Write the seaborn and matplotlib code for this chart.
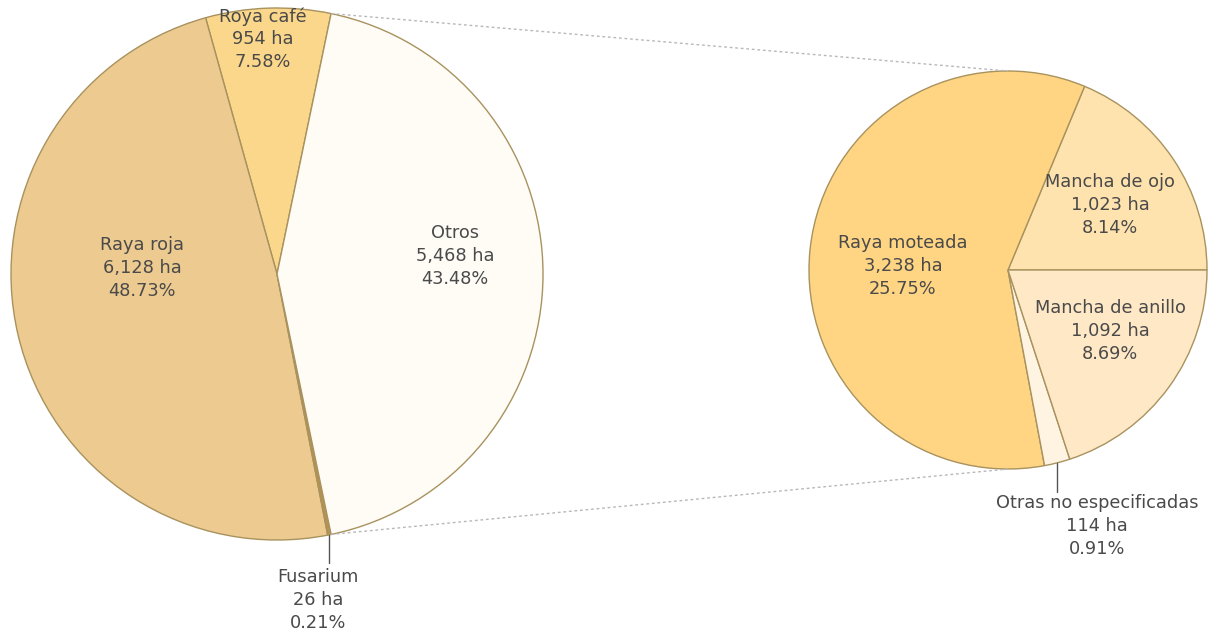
import numpy as np
import matplotlib
matplotlib.use("Agg")
import matplotlib.pyplot as plt
import seaborn as sns

# main pie (counterclockwise order)
main_names = ["Roya café", "Raya roja", "Fusarium", "Otros"]
main_ha = [954, 6128, 26, 5468]
main_pct = [7.58, 48.73, 0.21, 43.48]
main_colors = ["#FBD78C", "#EDCA8F", "#B8914E", "#FFFCF6"]

# breakdown of "Otros" (counterclockwise order)
sub_names = ["Mancha de ojo", "Raya moteada", "Otras no especificadas", "Mancha de anillo"]
sub_ha = [1023, 3238, 114, 1092]
sub_pct = [8.14, 25.75, 0.91, 8.69]
sub_colors = ["#FEE3AE", "#FFD583", "#FFF4E2", "#FEE8C6"]

W, H = 1220, 638
sns.set_theme(style="white")
plt.rcParams["font.family"] = ["DejaVu Sans"]

fig = plt.figure(figsize=(W / 100, H / 100), dpi=100)
ax = fig.add_axes([0, 0, 1, 1])

edge = "#A8925E"
c1, r1 = (277, H - 274), 266
c2, r2 = (1008, H - 270), 199

start = main_pct[3] / 100 * 360 / 2
w1, _ = ax.pie(main_ha, colors=main_colors, startangle=start, counterclock=True,
               center=c1, radius=r1,
               wedgeprops=dict(edgecolor=edge, linewidth=1))
w2, _ = ax.pie(sub_ha, colors=sub_colors, startangle=0, counterclock=True,
               center=c2, radius=r2,
               wedgeprops=dict(edgecolor=edge, linewidth=1))

ax.set_xlim(0, W)
ax.set_ylim(0, H)
ax.set_aspect("equal")
ax.axis("off")

# dashed connectors from the "Otros" wedge to the secondary pie
ot = w1[3]
for ang, ang2 in [(ot.theta2, 90), (ot.theta1, 270)]:
    x0 = c1[0] + r1 * np.cos(np.radians(ang))
    y0 = c1[1] + r1 * np.sin(np.radians(ang))
    x1 = c2[0] + r2 * np.cos(np.radians(ang2))
    y1 = c2[1] + r2 * np.sin(np.radians(ang2))
    ax.plot([x0, x1], [y0, y1], color="#B8B8B8", lw=1, ls=(0, (2, 2)))

txt_color = "#4A4A4A"
fs = 12.8


def label(name, ha, pct):
    return f"{name}\n{ha:,} ha\n{pct:.2f}%"


# label centres (pixels from top-left)
main_pos = [(263, 39), (142, 268), (318, 600), (455, 256)]
sub_pos = [(1110, 205), (903, 266), (1097, 526), (1110, 331)]

for n, v, p, (x, y) in zip(main_names, main_ha, main_pct, main_pos):
    ax.text(x, H - y, label(n, v, p), ha="center", va="center", fontsize=fs,
            color=txt_color, linespacing=1.33)
for n, v, p, (x, y) in zip(sub_names, sub_ha, sub_pct, sub_pos):
    ax.text(x, H - y, label(n, v, p), ha="center", va="center", fontsize=fs,
            color=txt_color, linespacing=1.33)

# leader lines for the tiny slices
for wedge, c, r, yend in [(w1[2], c1, r1, 563), (w2[2], c2, r2, 492)]:
    mid = np.radians((wedge.theta1 + wedge.theta2) / 2)
    x0 = c[0] + r * np.cos(mid)
    y0 = c[1] + r * np.sin(mid)
    ax.plot([x0, x0], [y0, H - yend], color="#555555", lw=1)

fig.savefig("out.png", dpi=100)
